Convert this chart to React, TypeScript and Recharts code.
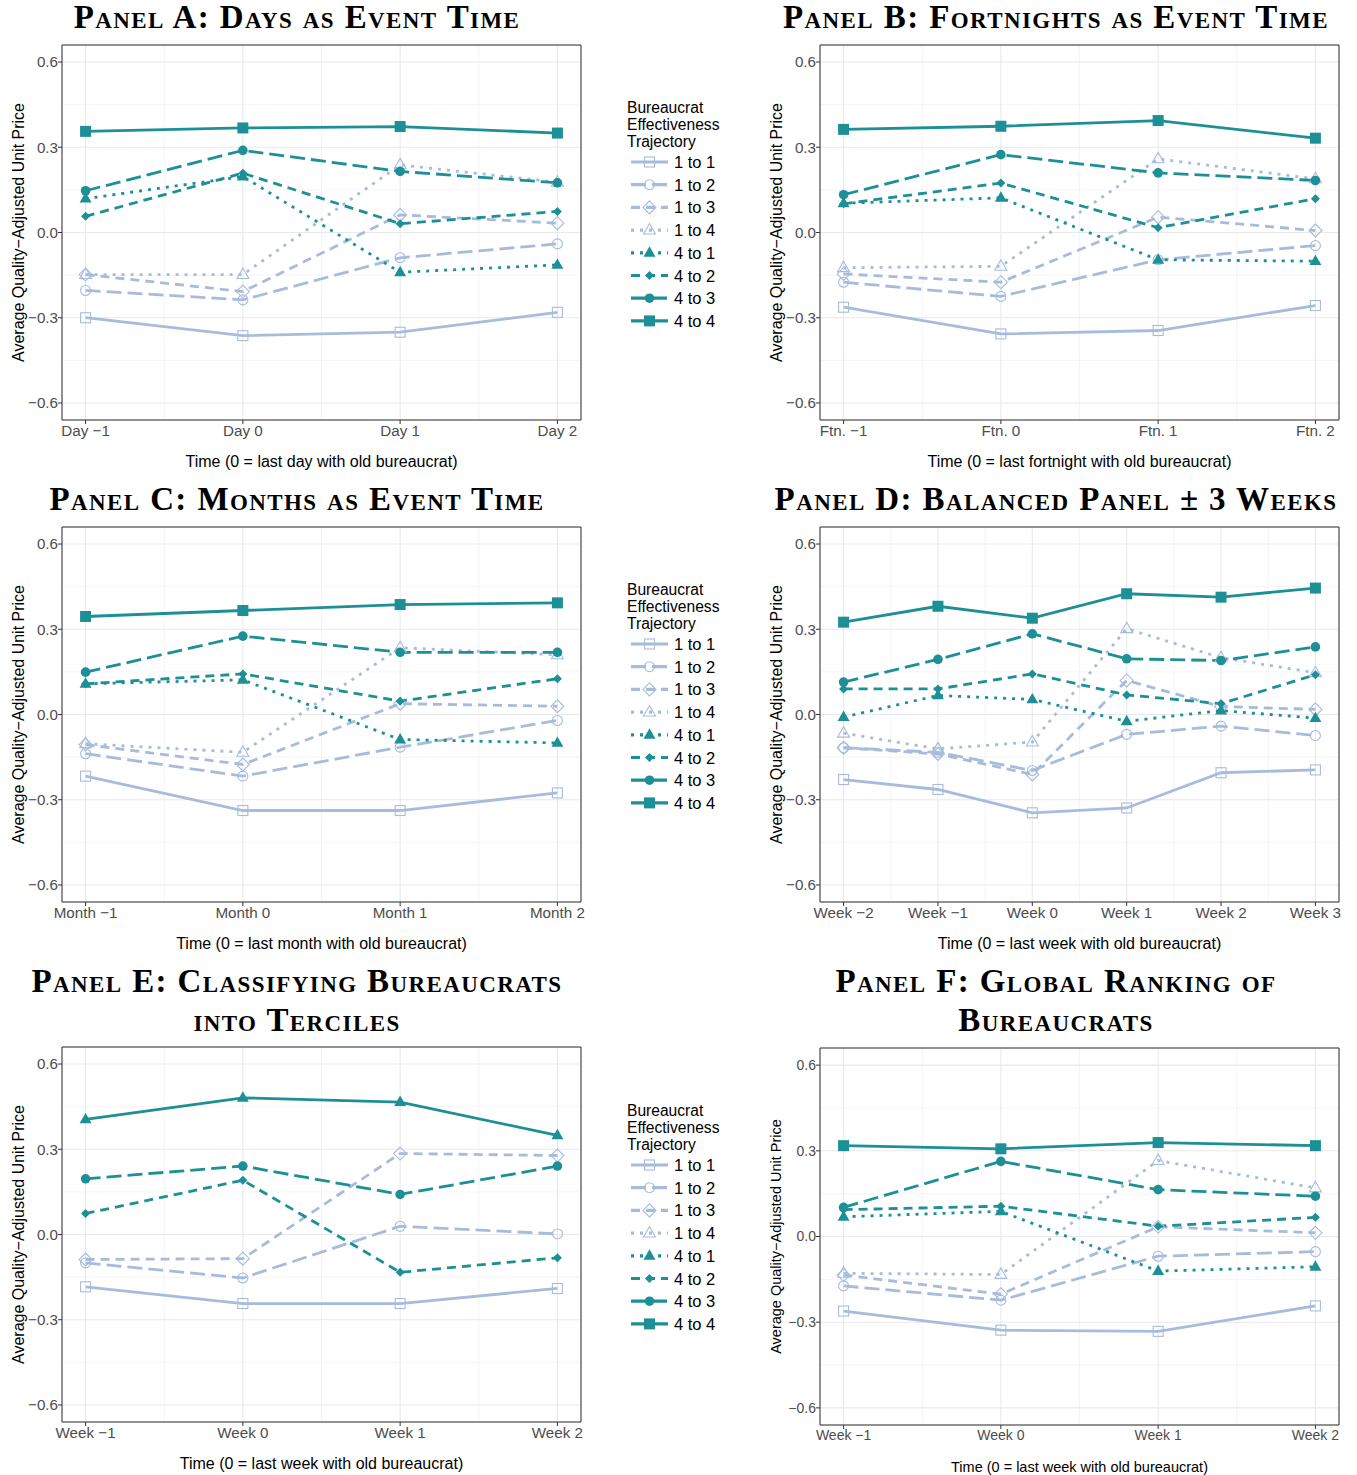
import React from 'react';
import { LineChart, Line, XAxis, YAxis, CartesianGrid, ReferenceArea } from 'recharts';

const LIGHT = '#a7bcdc';
const TEAL = '#1d8f96';
const SANS = '"Liberation Sans", Arial, Helvetica, sans-serif';
const SERIF = '"Liberation Serif", "DejaVu Serif", serif';

// event time positions and tick labels
const X_FOUR = [-1, 0, 1, 2];
const X_SIX = [-2, -1, 0, 1, 2, 3];
const DAY_LABELS = ['Day −1', 'Day 0', 'Day 1', 'Day 2'];
const FTN_LABELS = ['Ftn. −1', 'Ftn. 0', 'Ftn. 1', 'Ftn. 2'];
const MONTH_LABELS = ['Month −1', 'Month 0', 'Month 1', 'Month 2'];
const WEEK_LABELS = ['Week −1', 'Week 0', 'Week 1', 'Week 2'];
const WEEK6_LABELS = ['Week −2', 'Week −1', 'Week 0', 'Week 1', 'Week 2', 'Week 3'];
const Y_TICKS = [-0.6, -0.3, 0, 0.3, 0.6];
const Y_MINOR = [-0.45, -0.15, 0.15, 0.45];

// Panel A: days
const A_11 = [-0.300, -0.363, -0.351, -0.281];
const A_12 = [-0.204, -0.237, -0.089, -0.040];
const A_13 = [-0.148, -0.208, 0.062, 0.033];
const A_14 = [-0.148, -0.148, 0.238, 0.177];
const A_41 = [0.119, 0.197, -0.140, -0.114];
const A_42 = [0.057, 0.209, 0.031, 0.074];
const A_43 = [0.147, 0.289, 0.215, 0.175];
const A_44 = [0.356, 0.368, 0.373, 0.350];

// Panel B: fortnights
const B_11 = [-0.263, -0.357, -0.345, -0.257];
const B_12 = [-0.175, -0.225, -0.096, -0.046];
const B_13 = [-0.146, -0.175, 0.054, 0.007];
const B_14 = [-0.124, -0.119, 0.259, 0.189];
const B_41 = [0.103, 0.122, -0.096, -0.101];
const B_42 = [0.101, 0.174, 0.017, 0.119];
const B_43 = [0.133, 0.274, 0.210, 0.183];
const B_44 = [0.363, 0.374, 0.394, 0.332];

// Panel C: months
const C_11 = [-0.217, -0.338, -0.338, -0.276];
const C_12 = [-0.138, -0.217, -0.115, -0.021];
const C_13 = [-0.106, -0.176, 0.038, 0.029];
const C_14 = [-0.103, -0.133, 0.235, 0.210];
const C_41 = [0.108, 0.122, -0.088, -0.100];
const C_42 = [0.108, 0.143, 0.047, 0.126];
const C_43 = [0.149, 0.276, 0.219, 0.219];
const C_44 = [0.345, 0.366, 0.387, 0.393];

// Panel D: balanced +-3 weeks
const D_11 = [-0.229, -0.264, -0.346, -0.329, -0.205, -0.195];
const D_12 = [-0.117, -0.133, -0.197, -0.070, -0.041, -0.074];
const D_13 = [-0.117, -0.139, -0.211, 0.120, 0.028, 0.018];
const D_14 = [-0.066, -0.121, -0.097, 0.302, 0.200, 0.147];
const D_41 = [-0.009, 0.067, 0.053, -0.024, 0.014, -0.013];
const D_42 = [0.090, 0.090, 0.143, 0.069, 0.038, 0.140];
const D_43 = [0.114, 0.194, 0.284, 0.196, 0.190, 0.238];
const D_44 = [0.325, 0.381, 0.339, 0.425, 0.413, 0.445];

// Panel E: terciles
const E_11 = [-0.184, -0.243, -0.243, -0.190];
const E_12 = [-0.100, -0.153, 0.029, 0.002];
const E_13 = [-0.088, -0.085, 0.285, 0.278];
const E_42 = [0.074, 0.191, -0.133, -0.082];
const E_43 = [0.196, 0.241, 0.141, 0.241];
const E_44 = [0.405, 0.481, 0.466, 0.349];

// Panel F: global ranking
const F_11 = [-0.261, -0.328, -0.332, -0.243];
const F_12 = [-0.173, -0.223, -0.069, -0.053];
const F_13 = [-0.135, -0.202, 0.034, 0.013];
const F_14 = [-0.129, -0.133, 0.266, 0.170];
const F_41 = [0.069, 0.088, -0.121, -0.106];
const F_42 = [0.094, 0.106, 0.036, 0.067];
const F_43 = [0.102, 0.263, 0.164, 0.141];
const F_44 = [0.318, 0.307, 0.329, 0.318];

type Shape = 'square' | 'circle' | 'diamond' | 'triangle';
type Series = { key: string; name: string; color: string; dash?: string; shape: Shape; filled: boolean };

const SERIES: Series[] = [
  { key: 's11', name: '1 to 1', color: LIGHT, shape: 'square', filled: false },
  { key: 's12', name: '1 to 2', color: LIGHT, dash: '15 6', shape: 'circle', filled: false },
  { key: 's13', name: '1 to 3', color: LIGHT, dash: '9 6', shape: 'diamond', filled: false },
  { key: 's14', name: '1 to 4', color: LIGHT, dash: '3 6', shape: 'triangle', filled: false },
  { key: 's41', name: '4 to 1', color: TEAL, dash: '3 6', shape: 'triangle', filled: true },
  { key: 's42', name: '4 to 2', color: TEAL, dash: '9 6', shape: 'diamond', filled: true },
  { key: 's43', name: '4 to 3', color: TEAL, dash: '15 6', shape: 'circle', filled: true },
  { key: 's44', name: '4 to 4', color: TEAL, shape: 'square', filled: true },
];

function Marker({ cx, cy, shape, filled, color }: { cx: number; cy: number; shape: Shape; filled: boolean; color: string }) {
  if (cx == null || cy == null) return null;
  const fill = filled ? color : 'none';
  const sw = filled ? 0 : 1.1;
  if (shape === 'square') {
    const h = filled ? 5.5 : 5;
    return <rect x={cx - h} y={cy - h} width={2 * h} height={2 * h} fill={fill} stroke={color} strokeWidth={sw} />;
  }
  if (shape === 'circle') {
    return <circle cx={cx} cy={cy} r={filled ? 4.8 : 5} fill={fill} stroke={color} strokeWidth={sw} />;
  }
  if (shape === 'diamond') {
    const h = filled ? 4.5 : 6.5;
    return <polygon points={`${cx},${cy - h} ${cx + h},${cy} ${cx},${cy + h} ${cx - h},${cy}`} fill={fill} stroke={color} strokeWidth={sw} />;
  }
  const r = 6.5;
  return (
    <polygon
      points={`${cx},${cy - r} ${cx + r * 0.92},${cy + r * 0.6} ${cx - r * 0.92},${cy + r * 0.6}`}
      fill={fill}
      stroke={color}
      strokeWidth={sw}
    />
  );
}

type PanelProps = {
  left: number;
  top: number;
  xs: number[];
  xLabels: string[];
  values: Record<string, number[]>;
  xTitle: string;
  plotH?: number;
  small?: boolean;
  override?: Record<string, Shape>;
};

function Panel({ left, top, xs, xLabels, values, xTitle, plotH = 375, small, override = {} }: PanelProps) {
  const span = xs[xs.length - 1] - xs[0];
  const domain: [number, number] = [xs[0] - span * 0.05, xs[xs.length - 1] + span * 0.05];
  const xMinor = xs.slice(0, -1).map((x) => x + 0.5);
  const rows = xs.map((x, i) => {
    const r: Record<string, number> = { x };
    Object.keys(values).forEach((k) => (r[k] = values[k][i]));
    return r;
  });
  const series = SERIES.filter((s) => values[s.key]);
  const fs = small ? 14 : 15.2;
  const ls = small ? 14.5 : 16;
  const width = 599;
  const height = 15 + plotH + 60 + 20;
  return (
    <div style={{ position: 'absolute', left, top }}>
      <LineChart width={width} height={height} data={rows} margin={{ top: 15, right: 18, bottom: 20, left: 0 }}>
        <CartesianGrid stroke="#f1f1f1" strokeWidth={0.8} xAxisId="minor" yAxisId="minor" />
        <CartesianGrid stroke="#e9e9e9" strokeWidth={1.1} />
        <XAxis xAxisId="minor" dataKey="x" type="number" domain={domain} ticks={xMinor} allowDataOverflow hide />
        <YAxis yAxisId="minor" type="number" domain={[-0.66, 0.66]} ticks={Y_MINOR} allowDataOverflow hide />
        <XAxis
          dataKey="x"
          type="number"
          domain={domain}
          ticks={xs}
          allowDataOverflow
          height={60}
          interval={0}
          axisLine={false}
          tickLine={{ stroke: '#333' }}
          tickSize={4}
          tickMargin={1}
          tick={{ fill: '#4d4d4d', fontSize: fs, fontFamily: SANS }}
          tickFormatter={(v: number) => xLabels[xs.indexOf(v)] ?? ''}
          label={{ value: xTitle, position: 'insideBottom', offset: 13, fill: '#000', fontSize: ls, fontFamily: SANS }}
        />
        <YAxis
          type="number"
          domain={[-0.66, 0.66]}
          ticks={Y_TICKS}
          allowDataOverflow
          width={62}
          axisLine={false}
          tickLine={{ stroke: '#333' }}
          tickSize={4}
          tickMargin={0}
          tick={{ fill: '#4d4d4d', fontSize: fs, fontFamily: SANS }}
          tickFormatter={(v: number) => v.toFixed(1).replace('-', '−')}
          label={{
            value: 'Average Quality−Adjusted Unit Price',
            angle: -90,
            position: 'insideLeft',
            offset: 18,
            textAnchor: 'middle',
            fill: '#000',
            fontSize: ls,
            fontFamily: SANS,
          }}
        />
        {series.map((s) => (
          <Line
            key={s.key}
            dataKey={s.key}
            type="linear"
            stroke={s.color}
            strokeWidth={2.8}
            strokeDasharray={s.dash}
            isAnimationActive={false}
            dot={(p: any) => (
              <Marker key={`${s.key}-${p.index}`} cx={p.cx} cy={p.cy} shape={override[s.key] ?? s.shape} filled={s.filled} color={s.color} />
            )}
            activeDot={false}
          />
        ))}
        <ReferenceArea x1={domain[0]} x2={domain[1]} y1={-0.66} y2={0.66} fill="none" stroke="#333" strokeWidth={1} ifOverflow="visible" />
      </LineChart>
    </div>
  );
}

function Legend({ left, top }: { left: number; top: number }) {
  return (
    <svg style={{ position: 'absolute', left, top }} width={130} height={240} fontFamily={SANS}>
      {['Bureaucrat', 'Effectiveness', 'Trajectory'].map((t, i) => (
        <text key={t} x={0} y={18 + i * 17} fontSize={15.6} fill="#000">
          {t}
        </text>
      ))}
      {SERIES.map((s, i) => {
        const cy = 67 + i * 22.7;
        return (
          <g key={s.key}>
            <line x1={4} x2={41} y1={cy} y2={cy} stroke={s.color} strokeWidth={3.2} strokeDasharray={s.dash} />
            <Marker cx={22.5} cy={cy} shape={s.shape} filled={s.filled} color={s.color} />
            <text x={47} y={cy + 6} fontSize={16.5} fill="#000">
              {s.name}
            </text>
          </g>
        );
      })}
    </svg>
  );
}

function Title({ cx, top, lines }: { cx: number; top: number; lines: string[] }) {
  return (
    <div
      style={{
        position: 'absolute',
        left: cx - 340,
        top,
        width: 680,
        textAlign: 'center',
        fontFamily: SERIF,
        fontWeight: 'bold',
        fontVariant: 'small-caps',
        fontSize: 33,
        letterSpacing: 1.4,
        lineHeight: '39px',
        color: '#000',
      }}
    >
      {lines.map((l) => (
        <div key={l}>{l}</div>
      ))}
    </div>
  );
}

export default function App() {
  return (
    <div style={{ position: 'absolute', left: 0, top: 0, width: 1357, height: 1475, background: '#fff', overflow: 'hidden' }}>
      <Title cx={297} top={-2} lines={['Panel A: Days as Event Time']} />
      <Title cx={1056} top={-2} lines={['Panel B: Fortnights as Event Time']} />
      <Title cx={297} top={480} lines={['Panel C: Months as Event Time']} />
      <Title cx={1056} top={480} lines={['Panel D: Balanced Panel ± 3 Weeks']} />
      <Title cx={297} top={962} lines={['Panel E: Classifying Bureaucrats', 'into Terciles']} />
      <Title cx={1056} top={962} lines={['Panel F: Global Ranking of', 'Bureaucrats']} />

      <Panel
        left={0}
        top={30}
        xs={X_FOUR}
        xLabels={DAY_LABELS}
        xTitle="Time (0 = last day with old bureaucrat)"
        values={{ s11: A_11, s12: A_12, s13: A_13, s14: A_14, s41: A_41, s42: A_42, s43: A_43, s44: A_44 }}
      />
      <Panel
        left={758}
        top={30}
        xs={X_FOUR}
        xLabels={FTN_LABELS}
        xTitle="Time (0 = last fortnight with old bureaucrat)"
        values={{ s11: B_11, s12: B_12, s13: B_13, s14: B_14, s41: B_41, s42: B_42, s43: B_43, s44: B_44 }}
      />
      <Panel
        left={0}
        top={512}
        xs={X_FOUR}
        xLabels={MONTH_LABELS}
        xTitle="Time (0 = last month with old bureaucrat)"
        values={{ s11: C_11, s12: C_12, s13: C_13, s14: C_14, s41: C_41, s42: C_42, s43: C_43, s44: C_44 }}
      />
      <Panel
        left={758}
        top={512}
        xs={X_SIX}
        xLabels={WEEK6_LABELS}
        xTitle="Time (0 = last week with old bureaucrat)"
        values={{ s11: D_11, s12: D_12, s13: D_13, s14: D_14, s41: D_41, s42: D_42, s43: D_43, s44: D_44 }}
      />
      <Panel
        left={0}
        top={1032}
        xs={X_FOUR}
        xLabels={WEEK_LABELS}
        xTitle="Time (0 = last week with old bureaucrat)"
        values={{ s11: E_11, s12: E_12, s13: E_13, s42: E_42, s43: E_43, s44: E_44 }}
        override={{ s44: 'triangle' }}
      />
      <Panel
        left={758}
        top={1033}
        xs={X_FOUR}
        xLabels={WEEK_LABELS}
        xTitle="Time (0 = last week with old bureaucrat)"
        values={{ s11: F_11, s12: F_12, s13: F_13, s14: F_14, s41: F_41, s42: F_42, s43: F_43, s44: F_44 }}
        plotH={377}
        small
      />

      <Legend left={627} top={95} />
      <Legend left={627} top={577} />
      <Legend left={627} top={1098} />
    </div>
  );
}
